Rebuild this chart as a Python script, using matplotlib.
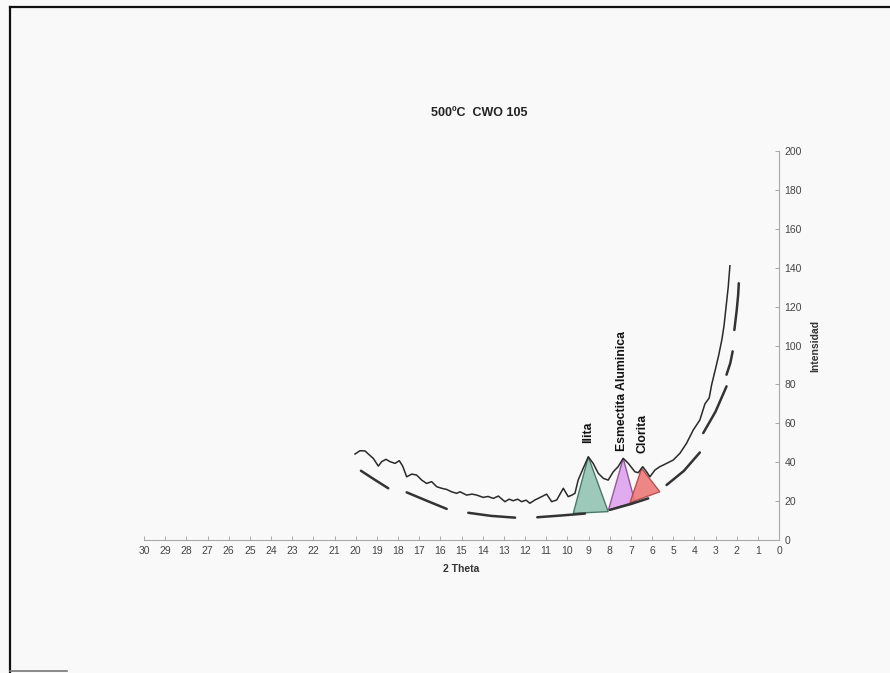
import numpy as np
import matplotlib.pyplot as plt
from matplotlib.lines import Line2D

# -----------------------------
# Datos del difractograma (500ºC CWO 105)
# -----------------------------
dos_theta = [20.03, 19.80, 19.56, 19.40, 19.17, 18.93, 18.77, 18.57, 18.38, 18.14,
             17.94, 17.78, 17.59, 17.35, 17.12, 16.88, 16.65, 16.41, 16.17, 15.94,
             15.70, 15.47, 15.23, 15.07, 14.76, 14.50, 14.28, 13.97, 13.75, 13.50,
             13.26, 12.95, 12.75, 12.56, 12.35, 12.16, 11.95, 11.77, 11.53, 11.21,
             10.98, 10.74, 10.50, 10.19, 9.96, 9.80, 9.64, 9.49, 9.25, 9.01,
             8.78, 8.54, 8.30, 8.07, 7.83, 7.60, 7.36, 7.12, 6.81, 6.65,
             6.44, 6.26, 6.10, 5.86, 5.63, 5.31, 5.00, 4.68, 4.37, 4.05,
             3.74, 3.50, 3.30, 3.18, 3.00, 2.85, 2.70, 2.60, 2.50, 2.40, 2.32]
intensidad = [44.2, 45.9, 45.8, 44.2, 42.0, 38.0, 40.3, 41.5, 40.3, 39.4,
              40.8, 38.0, 32.5, 33.9, 33.4, 30.8, 29.1, 30.0, 27.4, 26.6,
              26.0, 24.8, 24.0, 24.8, 23.1, 23.6, 23.1, 21.9, 22.4, 21.4,
              22.6, 19.7, 21.0, 20.2, 21.0, 19.7, 20.5, 18.9, 20.6, 22.3,
              23.6, 19.7, 20.6, 26.6, 22.3, 23.0, 24.0, 30.8, 36.9, 42.8,
              39.4, 34.3, 31.7, 30.8, 35.1, 37.7, 42.0, 39.4, 35.1, 34.6,
              37.7, 35.1, 32.5, 36.0, 37.7, 39.4, 41.1, 44.6, 49.7, 56.6,
              61.7, 70.0, 73.0, 80.0, 88.0, 95.0, 103.0, 110.0, 120.0, 130.0, 141.0]

# Línea base trazada a mano (tramos separados por NaN)
base_theta = [19.75, 19.10, 18.46, np.nan,
              17.59, 16.60, 15.70, np.nan,
              14.68, 13.60, 12.47, np.nan,
              11.42, 10.30, 9.17, np.nan,
              7.99, 7.00, 6.18, np.nan,
              5.31, 4.50, 3.74, np.nan,
              3.58, 3.00, 2.48, np.nan,
              2.48, 2.30, 2.19, np.nan,
              2.11, 2.00, 1.93, 1.90]
base_int = [35.6, 31.0, 26.6, np.nan,
            24.5, 20.0, 16.0, np.nan,
            14.0, 12.4, 11.5, np.nan,
            11.7, 12.6, 13.6, np.nan,
            15.5, 18.5, 21.4, np.nan,
            28.3, 35.5, 45.0, np.nan,
            55.0, 66.0, 79.0, np.nan,
            85.0, 91.0, 97.0, np.nan,
            108.0, 118.0, 126.0, 132.0]

# Picos identificados: (vértice, base izquierda, base derecha)
minerales = ["Ilita", "Esmectita Aluminica", "Clorita"]
picos_theta = [[9.01, 9.72, 8.07], [7.36, 8.06, 6.81], [6.49, 7.04, 5.63]]
picos_int = [[42.8, 13.7, 14.6], [42.0, 15.4, 19.7], [36.9, 19.2, 24.8]]
etiqueta_theta = [9.03, 7.43, 6.45]
etiqueta_int = [50.0, 46.0, 44.6]

colores_relleno = ["#93c4b4", "#dfa3ee", "#ec7a78"]
colores_borde = ["#3c6e5e", "#8a4c90", "#b04848"]

# -----------------------------
# Figura
# -----------------------------
plt.rcParams['font.family'] = ['Liberation Sans', 'DejaVu Sans']
fig = plt.figure(figsize=(8.9, 6.73), dpi=100, facecolor="#f9f9f9")
ax = fig.add_axes([0.1618, 0.1976, 0.7135, 0.578])
ax.set_facecolor("#f9f9f9")

for i in range(len(minerales)):
    ax.fill(picos_theta[i], picos_int[i], facecolor=colores_relleno[i],
            edgecolor=colores_borde[i], linewidth=1.0, alpha=0.9, zorder=2)
    ax.text(etiqueta_theta[i], etiqueta_int[i], minerales[i], rotation=90,
            ha="center", va="bottom", fontsize=8.8, fontweight="bold", color="#111")

ax.plot(dos_theta, intensidad, color="#2a2a2a", linewidth=1.1, zorder=3)
ax.plot(base_theta, base_int, color="#333333", linewidth=1.8,
        solid_capstyle="round", zorder=3)

ax.set_xlim(30, 0)
ax.set_ylim(0, 200)
ax.set_xticks(np.arange(0, 31, 1))
ax.set_yticks(np.arange(0, 201, 20))

for lado in ["left", "top"]:
    ax.spines[lado].set_visible(False)
for lado in ["right", "bottom"]:
    ax.spines[lado].set_color("#a8a8a8")
    ax.spines[lado].set_linewidth(0.8)

ax.yaxis.tick_right()
ax.yaxis.set_label_position("right")
ax.tick_params(axis="both", direction="in", length=3, width=0.7, color="#a8a8a8",
               labelsize=7.5, labelcolor="#444444", pad=4)
ax.set_xlabel("2 Theta", fontsize=7.5, fontweight="bold", color="#333", labelpad=6)
ax.set_ylabel("Intensidad", fontsize=7.5, fontweight="bold", color="#333", labelpad=6)

fig.text(0.539, 0.832, "500ºC  CWO 105", ha="center", va="center",
         fontsize=9, fontweight="bold", color="#222")

# Marco de la hoja escaneada
fig.add_artist(Line2D([0.0112, 0.0112], [0.0, 0.990], color="#111", linewidth=1.6))
fig.add_artist(Line2D([0.0112, 1.0], [0.990, 0.990], color="#111", linewidth=1.6))
fig.add_artist(Line2D([0.0112, 0.075], [0.003, 0.003], color="#777", linewidth=1.2))

fig.savefig("out.png", dpi=100, facecolor=fig.get_facecolor())
